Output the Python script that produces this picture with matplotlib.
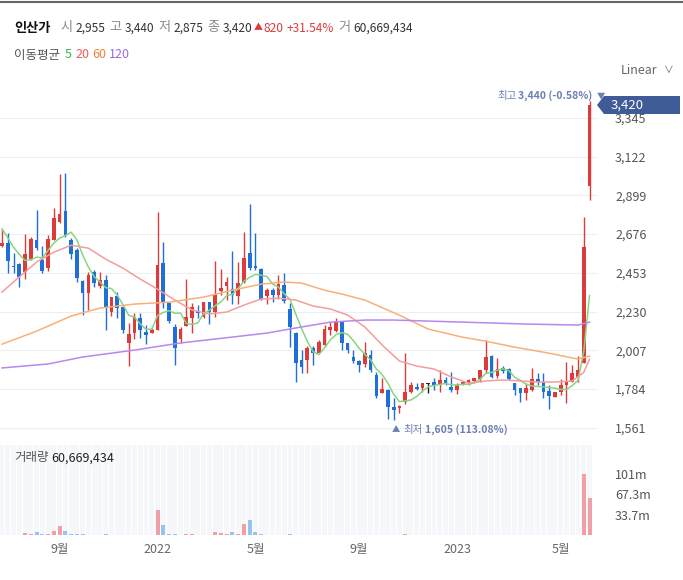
import matplotlib
matplotlib.use('Agg')
import matplotlib.pyplot as plt
import numpy as np
import pandas as pd
from matplotlib.patches import Polygon
from matplotlib.lines import Line2D

plt.rcParams['font.family'] = ['Noto Sans CJK KR', 'DejaVu Sans']

W, H = 683, 580

# weekly candles, 2021-06-21 .. 2023-06-05
dates = pd.date_range('2021-06-21', periods=103, freq='W-MON')

opens = [2605, 2624, 2492, 2503, 2458, 2532, 2642, 2526, 2481, 2642,
         2745, 2809, 2642, 2584, 2406, 2337, 2458, 2377, 2411, 2227,
         2319, 2256, 2049, 2106, 2193, 2112, 2106, 2123, 2509, 2279,
         2141, 2072, 2147, 2192, 2233, 2198, 2284, 2227, 2348, 2377,
         2360, 2319, 2400, 2567, 2492, 2475, 2319, 2354, 2325, 2383,
         2244, 2106, 1951, 1951, 2020, 1991, 2037, 2123, 2118, 2170,
         2049, 1967, 1945, 1928, 1979, 1863, 1760, 1778, 1680, 1675,
         1709, 1767, 1795, 1789, 1812, 1824, 1812, 1836, 1795, 1778,
         1806, 1818, 1830, 1841, 1893, 1973, 1858, 1905, 1899, 1818,
         1789, 1760, 1778, 1841, 1824, 1772, 1738, 1767, 1806, 1824,
         1853, 1934, 2955]
highs = [2705, 2681, 2566, 2509, 2676, 2659, 2814, 2607, 2670, 2826,
         3021, 3028, 2653, 2596, 2411, 2457, 2469, 2458, 2440, 2314,
         2342, 2256, 2164, 2222, 2222, 2153, 2135, 2803, 2630, 2285,
         2158, 2141, 2417, 2279, 2267, 2284, 2284, 2520, 2474, 2428,
         2578, 2515, 2688, 2849, 2682, 2481, 2365, 2365, 2440, 2452,
         2279, 2112, 2008, 2031, 2031, 2066, 2152, 2170, 2193, 2175,
         2049, 2008, 1951, 2054, 2008, 1882, 1847, 1783, 1732, 1692,
         1990, 1824, 1818, 1818, 1818, 1847, 1893, 1853, 1882, 1818,
         1830, 1841, 1847, 1893, 2066, 1979, 1962, 1916, 1905, 1818,
         1789, 1818, 1905, 1876, 1876, 1806, 1767, 1841, 1939, 1922,
         1974, 2774, 3440]
lows = [2600, 2451, 2451, 2371, 2417, 2526, 2584, 2451, 2463, 2642,
        2740, 2659, 2532, 2400, 2210, 2239, 2371, 2366, 2123, 2204,
        2192, 2105, 1917, 2072, 2078, 2043, 2106, 2123, 2250, 2164,
        1922, 2049, 2147, 2106, 2192, 2192, 2157, 2198, 2325, 2296,
        2273, 2273, 2394, 2469, 2469, 2296, 2273, 2285, 2302, 2279,
        2026, 1824, 1876, 1876, 1922, 1991, 2031, 2095, 2112, 2008,
        1991, 1934, 1882, 1911, 1882, 1732, 1760, 1611, 1605, 1646,
        1698, 1760, 1778, 1767, 1760, 1778, 1767, 1806, 1767, 1755,
        1806, 1806, 1824, 1824, 1876, 1847, 1847, 1876, 1836, 1749,
        1709, 1721, 1772, 1806, 1732, 1669, 1738, 1749, 1703, 1824,
        1824, 1934, 2875]
closes = [2625, 2520, 2486, 2428, 2561, 2647, 2596, 2463, 2647, 2768,
          2791, 2670, 2561, 2423, 2337, 2440, 2394, 2411, 2255, 2314,
          2250, 2123, 2101, 2198, 2123, 2095, 2123, 2497, 2285, 2175,
          2020, 2129, 2198, 2255, 2221, 2284, 2227, 2330, 2365, 2400,
          2325, 2394, 2538, 2481, 2481, 2302, 2354, 2325, 2388, 2290,
          2141, 1934, 1911, 2020, 1991, 2054, 2129, 2141, 2170, 2049,
          2008, 1945, 1922, 1991, 1893, 1743, 1783, 1680, 1663, 1686,
          1767, 1806, 1783, 1818, 1812, 1801, 1836, 1812, 1778, 1806,
          1824, 1836, 1847, 1893, 1968, 1853, 1899, 1886, 1841, 1778,
          1760, 1789, 1841, 1824, 1767, 1743, 1767, 1806, 1824, 1876,
          1893, 2600, 3420]
# volume in millions of shares
volumes = [0.8, 0.8, 0.8, 0.8, 4.0, 1.2, 5.6, 2.0, 1.5, 7.3,
           15.0, 7.3, 1.2, 1.0, 1.0, 0.8, 0.8, 0.8, 1.0, 0.8,
           0.8, 0.8, 0.8, 0.8, 0.8, 0.6, 0.6, 41.0, 17.0, 2.0,
           1.2, 0.6, 2.0, 1.2, 0.6, 0.6, 0.8, 5.6, 4.0, 2.0,
           5.6, 2.0, 18.5, 25.0, 5.6, 2.0, 0.8, 0.8, 0.8, 0.8,
           1.0, 0.8, 0.4, 0.4, 0.4, 0.4, 0.4, 0.4, 0.4, 0.4,
           0.4, 0.4, 0.4, 0.4, 0.4, 0.4, 0.4, 0.4, 0.4, 0.4,
           2.0, 0.4, 0.4, 0.4, 0.4, 0.4, 0.4, 0.4, 0.4, 0.4,
           0.4, 0.4, 0.4, 0.4, 0.4, 0.4, 0.4, 0.4, 0.4, 0.4,
           0.4, 0.4, 0.4, 0.4, 0.4, 0.4, 0.4, 0.4, 0.4, 0.6,
           0.6, 101.0, 60.669434]

# moving averages (candle index, price)
ma20_idx = [0, 3, 6, 9, 12, 15, 18, 21, 24, 27, 30, 33, 36, 39, 42, 45, 48, 51,
            54, 57, 60, 63, 66, 69, 72, 75, 78, 81, 84, 87, 90, 93, 96, 99, 101, 102]
ma20_val = [2342, 2429, 2515, 2572, 2612, 2595, 2532, 2480, 2417, 2359, 2296, 2239,
            2216, 2227, 2267, 2302, 2307, 2296, 2262, 2245, 2210, 2141, 2037, 1945,
            1916, 1899, 1853, 1818, 1830, 1836, 1830, 1824, 1824, 1830, 1880, 1955]
ma60_idx = [0, 6, 12, 17, 23, 29, 35, 40, 45, 49, 52, 56, 59, 63, 69, 74, 80, 84,
            89, 95, 100, 102]
ma60_val = [2042, 2117, 2204, 2250, 2273, 2284, 2313, 2353, 2388, 2400, 2394, 2353,
            2331, 2296, 2209, 2129, 2082, 2059, 2025, 1990, 1956, 1973]
ma120_idx = [0, 8, 14, 23, 31, 40, 46, 52, 57, 63, 68, 80, 91, 100, 102]
ma120_val = [1905, 1928, 1968, 2008, 2049, 2083, 2106, 2141, 2169, 2181, 2181, 2169,
             2158, 2152, 2169]
# first MA5 points (before 5 weeks of visible closes)
ma5_head = [2706, 2655, 2600, 2560]

price_ticks = [1561, 1784, 2007, 2230, 2453, 2676, 2899, 3122, 3345]
vol_ticks = [33.7, 67.3, 101]
vol_labels = ['33.7m', '67.3m', '101m']

red = '#dc3b3b'
blue = '#1f6fd6'
c_ma5, c_ma20, c_ma60, c_ma120 = '#86d681', '#f59c9c', '#f7b07a', '#b888ee'

def fx(x):
    return x / W

def fy(y):
    return 1 - y / H

fig = plt.figure(figsize=(W / 100, H / 100), dpi=100)
fig.patch.set_facecolor('white')
renderer = fig.canvas.get_renderer()

x = np.arange(len(closes))
o = np.array(opens); h = np.array(highs); l = np.array(lows); c = np.array(closes)
colors = np.where(c > o, red, np.where(c < o, blue, '#222222'))
xlim = (-2 / 5.76, (597 - 2) / 5.76)

# price panel
ax = fig.add_axes([0, fy(440), fx(597), fy(85) - fy(440)])
ax.set_xlim(*xlim)
ax.set_ylim(1490, 3535)
for t in price_ticks:
    ax.axhline(t, color='#eceef2', lw=0.8, zorder=0)
ax.vlines(x, l, h, colors=colors, lw=1, zorder=2)
body_lo = np.minimum(o, c)
body_h = np.maximum(np.abs(c - o), 6)
ax.bar(x, body_h, bottom=body_lo, width=0.64, color=colors, zorder=3)

ma5 = pd.Series(closes).rolling(5).mean().to_numpy()
ma5[:4] = ma5_head
ax.plot(x, ma5, color=c_ma5, lw=1.1, zorder=4)
ax.plot(ma20_idx, ma20_val, color=c_ma20, lw=1.1, zorder=4)
ax.plot(ma60_idx, ma60_val, color=c_ma60, lw=1.1, zorder=4)
ax.plot(ma120_idx, ma120_val, color=c_ma120, lw=1.1, zorder=4)

ax.yaxis.tick_right()
ax.set_yticks(price_ticks)
ax.set_yticklabels([f'{t:,}' for t in price_ticks])
ax.tick_params(axis='y', length=0, pad=13, labelsize=9, labelcolor='#555555')
ax.set_xticks([])
for s in ax.spines.values():
    s.set_visible(False)

# volume panel
axv = fig.add_axes([0, fy(535), fx(597), fy(445) - fy(535)])
axv.set_xlim(*xlim)
axv.set_ylim(0, 148)
axv.bar(x, 148, width=0.86, color='#f5f7fb', zorder=0)
vcol = np.where(c >= o, '#f0a0a4', '#98c2f0')
axv.bar(x, volumes, width=0.7, color=vcol, zorder=2)
axv.yaxis.tick_right()
axv.set_yticks(vol_ticks)
axv.set_yticklabels(vol_labels)
axv.tick_params(axis='y', length=0, pad=13, labelsize=9, labelcolor='#555555')

tick_pos, tick_lab = [], []
for m in ['2021-09-01', '2022-01-01', '2022-05-01', '2022-09-01', '2023-01-01', '2023-05-01']:
    d = pd.Timestamp(m)
    i = int(np.where(dates <= d)[0][-1])
    tick_pos.append(i)
    tick_lab.append(str(d.year) if d.month == 1 else f'{d.month}월')
axv.set_xticks(tick_pos)
axv.set_xticklabels(tick_lab)
axv.tick_params(axis='x', length=0, pad=6, labelsize=9, labelcolor='#666666')
for s in axv.spines.values():
    s.set_visible(False)

# top border
fig.add_artist(Line2D([0, 1], [fy(1.5), fy(1.5)], color='#666666', lw=1.5))


def row(x0, y, pieces):
    # lay out text pieces left to right, each (text, color, size, weight, gap_after)
    cur = x0
    for s, col, size, weight, gap in pieces:
        t = fig.text(fx(cur), fy(y), s, fontsize=size, color=col,
                     fontweight=weight, va='center')
        bb = t.get_window_extent(renderer)
        cur += bb.width + gap
    return cur


gray = '#8a8a8a'
dark = '#333333'
row(14, 28, [('인산가', '#111111', 9.5, 'bold', 10),
             ('시', gray, 9.5, 'normal', 3), ('2,955', dark, 8.6, 'normal', 4),
             ('고', gray, 9.5, 'normal', 3), ('3,440', dark, 8.6, 'normal', 4),
             ('저', gray, 9.5, 'normal', 3), ('2,875', dark, 8.6, 'normal', 4),
             ('종', gray, 9.5, 'normal', 3), ('3,420', dark, 8.6, 'normal', 2),
             ('▲', red, 6.5, 'normal', 1), ('820', red, 8.6, 'normal', 3),
             ('+31.54%', red, 8.6, 'normal', 4),
             ('거', gray, 9.5, 'normal', 3), ('60,669,434', dark, 8.6, 'normal', 0)])

row(14, 55, [('이동평균', '#555555', 9, 'normal', 5),
             ('5', '#3cb44b', 9, 'normal', 3), ('20', '#f05a5a', 9, 'normal', 3),
             ('60', '#f0803c', 9, 'normal', 3), ('120', '#9b6bea', 9, 'normal', 0)])

row(621, 70, [('Linear', '#666666', 9, 'normal', 6), ('∨', '#666666', 7, 'normal', 0)])

# high / low annotations
row(497, 96, [('최고', '#6b7fb3', 7.5, 'normal', 2),
              ('3,440 (-0.58%)', '#6b7fb3', 7.5, 'bold', 4),
              ('▼', '#6b7fb3', 6, 'normal', 0)])
row(392, 430, [('▲', '#6b7fb3', 6, 'normal', 3), ('최저', '#6b7fb3', 7.5, 'normal', 2),
               ('1,605 (113.08%)', '#6b7fb3', 7.5, 'bold', 0)])

# current price tag
tag = Polygon([(fx(597), fy(105)), (fx(604), fy(96)), (fx(680), fy(96)),
               (fx(680), fy(114)), (fx(604), fy(114))], closed=True,
              facecolor='#3f5b98', edgecolor='none', transform=fig.transFigure, zorder=10)
fig.add_artist(tag)
fig.text(fx(611), fy(105), '3,420', fontsize=9.5, color='white', va='center', zorder=11)

# volume label
row(14, 458, [('거래량', '#555555', 9, 'normal', 3), ('60,669,434', '#222222', 9, 'normal', 0)])

fig.savefig('out.png', dpi=100)
